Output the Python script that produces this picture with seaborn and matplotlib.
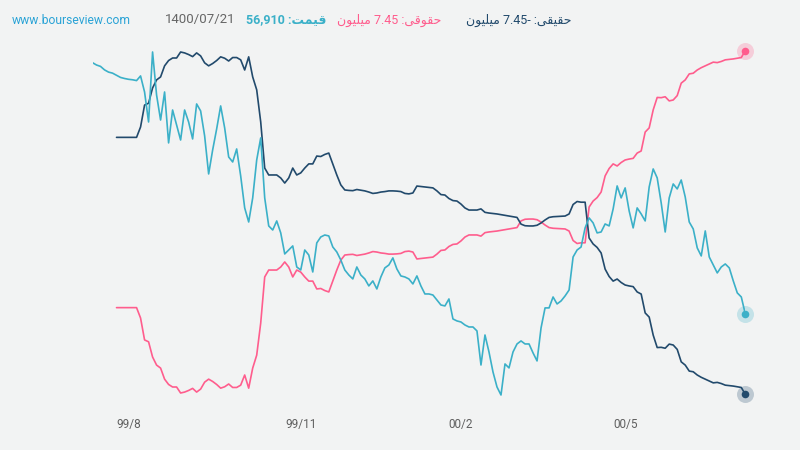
import matplotlib
matplotlib.use('Agg')
import numpy as np
import pandas as pd
import matplotlib.pyplot as plt
import seaborn as sns

# closing price, one value per trading day
price = [
    78520, 78320, 78200, 77900, 77710, 77620, 77430, 77250, 77160, 77090,
    77050, 76980, 77380, 76000, 73420, 79440, 75740, 73590, 76000, 71620,
    74450, 73160, 71870, 74450, 73420, 71960, 74970, 74370, 72220, 68950,
    71010, 72820, 74800, 72910, 70410, 69980, 71100, 68780, 66030, 64820,
    66890, 70150, 72050, 66890, 64480, 64130, 64910, 63880, 62070, 62410,
    62760, 60950, 60690, 62410, 61980, 60520, 63020, 63530, 63700, 63620,
    62670, 62240, 61550, 60690, 60260, 59920, 60950, 60260, 59920, 59320,
    59750, 59060, 60090, 60870, 61120, 61730, 60780, 60180, 60090, 59920,
    59490, 60180, 59320, 58630, 58630, 58540, 58110, 57680, 57600, 58200,
    56480, 56310, 56220, 55960, 55790, 55790, 55450, 52520, 55100, 53640,
    51920, 50630, 49940, 52610, 52270, 53640, 54330, 54590, 54330, 54330,
    53560, 52870, 55710, 57430, 57430, 58370, 57770, 58030, 58460, 58970,
    61810, 62410, 62670, 64310, 65170, 64740, 63880, 63960, 64650, 64480,
    65940, 67920, 66890, 67750, 65770, 64310, 66030, 65510, 64910, 67830,
    69380, 68610, 66460, 63960, 66890, 68090, 67660, 68430, 66970, 64820,
    64220, 62590, 61900, 64050, 61810, 61120, 60440, 60950, 61210, 60870,
    59750, 58720, 58370, 56910,
]

# cumulative net flow of institutional (legal) money, first days missing
legal_flow = [np.nan] * 6 + [
    -3.69, -3.69, -3.69, -3.69, -3.69, -3.69,
    -4.14, -5.09, -5.17, -5.83, -6.18, -6.31, -6.79, -7.02, -7.13, -7.13,
    -7.39, -7.35, -7.28, -7.19, -7.35, -7.22, -6.92, -6.79, -6.89, -7.02,
    -7.18, -7.12, -7.00, -7.15, -7.15, -7.05, -6.61, -7.18, -6.31, -5.75,
    -4.36, -2.36, -2.06, -2.06, -2.06, -1.93, -1.71, -1.93, -2.36, -2.06,
    -2.15, -2.36, -2.54, -2.54, -2.88, -2.86, -2.95, -3.01, -2.54, -2.06,
    -1.63, -1.41, -1.39, -1.38, -1.43, -1.40, -1.37, -1.32, -1.26, -1.28,
    -1.32, -1.34, -1.37, -1.37, -1.36, -1.34, -1.26, -1.24, -1.28, -1.58,
    -1.56, -1.54, -1.52, -1.50, -1.37, -1.21, -1.19, -1.04, -0.95, -0.93,
    -0.80, -0.63, -0.54, -0.54, -0.54, -0.59, -0.44, -0.41, -0.39, -0.37,
    -0.34, -0.31, -0.28, -0.25, -0.22, 0.07, 0.14, 0.15, 0.15, 0.12,
    0.02, -0.11, -0.22, -0.25, -0.26, -0.27, -0.28, -0.37, -0.78, -0.91,
    -0.88, -0.88, 0.67, 0.93, 1.08, 1.32, 2.02, 2.34, 2.54, 2.45,
    2.60, 2.71, 2.75, 2.78, 3.01, 3.10, 3.92, 4.10, 4.88, 5.42,
    5.41, 5.45, 5.27, 5.31, 5.50, 6.04, 6.18, 6.44, 6.47, 6.61,
    6.71, 6.79, 6.87, 6.95, 6.93, 6.98, 7.05, 7.07, 7.09, 7.12,
    7.15, 7.45,
]

# cumulative net flow of individual (real) money
real_flow = [np.nan] * 6 + [
    3.69, 3.69, 3.69, 3.69, 3.69, 3.69,
    4.14, 5.09, 5.17, 5.83, 6.18, 6.31, 6.79, 7.02, 7.13, 7.13,
    7.39, 7.35, 7.28, 7.19, 7.35, 7.22, 6.92, 6.79, 6.89, 7.02,
    7.18, 7.12, 7.00, 7.15, 7.15, 7.05, 6.61, 7.18, 6.31, 5.75,
    4.36, 2.36, 2.06, 2.06, 2.06, 1.93, 1.71, 1.93, 2.36, 2.06,
    2.15, 2.36, 2.54, 2.54, 2.88, 2.86, 2.95, 3.01, 2.54, 2.06,
    1.63, 1.41, 1.39, 1.38, 1.43, 1.40, 1.37, 1.32, 1.26, 1.28,
    1.32, 1.34, 1.37, 1.37, 1.36, 1.34, 1.26, 1.24, 1.28, 1.58,
    1.56, 1.54, 1.52, 1.50, 1.37, 1.21, 1.19, 1.04, 0.95, 0.93,
    0.80, 0.63, 0.54, 0.54, 0.54, 0.59, 0.44, 0.41, 0.39, 0.37,
    0.34, 0.31, 0.28, 0.25, 0.22, -0.07, -0.14, -0.15, -0.15, -0.12,
    -0.02, 0.11, 0.22, 0.25, 0.26, 0.27, 0.28, 0.37, 0.78, 0.91,
    0.88, 0.88, -0.67, -0.93, -1.08, -1.32, -2.02, -2.34, -2.54, -2.45,
    -2.60, -2.71, -2.75, -2.78, -3.01, -3.10, -3.92, -4.10, -4.88, -5.42,
    -5.41, -5.45, -5.27, -5.31, -5.50, -6.04, -6.18, -6.44, -6.47, -6.61,
    -6.71, -6.79, -6.87, -6.95, -6.93, -6.98, -7.05, -7.07, -7.09, -7.12,
    -7.15, -7.45,
]

tick_days = [9, 52, 92, 133]
tick_labels = ['99/8', '99/11', '00/2', '00/5']

site = 'www.bourseview.com'
report_date = '1400/07/21'
price_text = 'قیمت: 56,910'
legal_text = 'حقوقی: 7.45 میلیون'
real_text = 'حقیقی: -7.45 میلیون'

BG = '#f2f3f3'
CYAN = '#3bb0c8'
PINK = '#ff5d8d'
NAVY = '#224a6c'

# matplotlib does no arabic joining or bidi, so do a tiny version by hand
FORMS = {
    'ح': ('\uFEA1', '\uFEA2', '\uFEA3', '\uFEA4'),
    'ق': ('\uFED5', '\uFED6', '\uFED7', '\uFED8'),
    'ی': ('\uFEEF', '\uFEF0', '\uFEF3', '\uFEF4'),
    'و': ('\uFEED', '\uFEEE', None, None),
    'م': ('\uFEE1', '\uFEE2', '\uFEE3', '\uFEE4'),
    'ل': ('\uFEDD', '\uFEDE', '\uFEDF', '\uFEE0'),
    'ن': ('\uFEE5', '\uFEE6', '\uFEE7', '\uFEE8'),
    'ت': ('\uFE95', '\uFE96', '\uFE97', '\uFE98'),
}


def joins_next(c):
    return c in FORMS and FORMS[c][2] is not None


def shape_word(word):
    out = []
    for i, c in enumerate(word):
        prev = word[i - 1] if i > 0 else ''
        nxt = word[i + 1] if i + 1 < len(word) else ''
        left = joins_next(prev)
        right = nxt in FORMS and joins_next(c)
        iso, fin, ini, med = FORMS[c]
        if left and right:
            out.append(med)
        elif left:
            out.append(fin)
        elif right:
            out.append(ini)
        else:
            out.append(iso)
    return ''.join(out)


def rtl(text):
    out = []
    for tok in reversed(text.split(' ')):
        word = tok.rstrip(':')
        colon = tok[len(word):]
        if word and word[0] in FORMS:
            out.append(colon + shape_word(word)[::-1])
        elif word.startswith('-'):
            out.append(word[1:] + '-' + colon)
        else:
            out.append(word + colon)
    return ' '.join(out)


df = pd.DataFrame({
    'day': range(len(price)),
    'price': price,
    'legal': legal_flow,
    'real': real_flow,
})

sns.set_theme(style='white')
plt.rcParams['font.family'] = ['Roboto', 'DejaVu Sans']

fig = plt.figure(figsize=(8, 4.5), dpi=100, facecolor=BG)
ax = fig.add_axes([92.5 / 800, 45 / 450, 652.8 / 800, 365 / 450])
ax.set_facecolor(BG)
ax2 = ax.twinx()

sns.lineplot(data=df, x='day', y='price', ax=ax2, color=CYAN, lw=1.2)
sns.lineplot(data=df, x='day', y='legal', ax=ax, color=PINK, lw=1.2)
sns.lineplot(data=df, x='day', y='real', ax=ax, color=NAVY, lw=1.2)

# last value markers with a soft halo
last = df.iloc[-1]
for a, col, c in [(ax, 'legal', PINK), (ax, 'real', NAVY), (ax2, 'price', CYAN)]:
    a.scatter(last['day'], last[col], s=150, color=c, alpha=0.25, lw=0, clip_on=False, zorder=5)
    a.scatter(last['day'], last[col], s=30, color=c, lw=0, clip_on=False, zorder=6)

ax.set_xlim(0, len(price) - 1)
ax.set_ylim(-7.91, 7.91)
ax2.set_ylim(49080, 80470)

for a in (ax, ax2):
    for s in a.spines.values():
        s.set_visible(False)
    a.set_yticks([])
    a.set_ylabel('')
ax.set_xlabel('')
ax.set_xticks(tick_days, tick_labels)
ax.tick_params(axis='x', length=0, pad=9.5, labelsize=8.5, labelcolor='#5f5f5f')

y_head = 1 - 20 / 450
fig.text(12 / 800, y_head, site, color='#2aa3d6', fontsize=8.7, va='center')
fig.text(165 / 800, y_head, report_date, color='#666666', fontsize=9.5, va='center')
fig.text(326 / 800, y_head, rtl(price_text), color=CYAN, fontsize=9, va='center',
         ha='right', fontweight='bold')
fig.text(441 / 800, y_head, rtl(legal_text), color=PINK, fontsize=9, va='center', ha='right')
fig.text(571 / 800, y_head, rtl(real_text), color=NAVY, fontsize=9, va='center', ha='right')

fig.savefig('out.png', dpi=100, facecolor=BG)
plt.close(fig)
